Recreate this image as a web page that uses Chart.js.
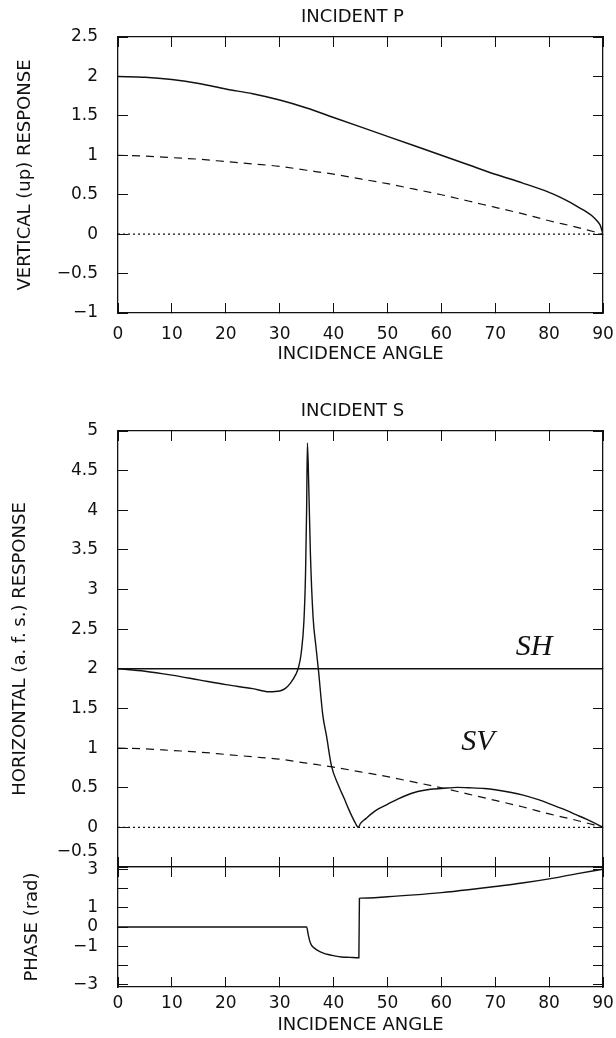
<!DOCTYPE html>
<html><head><meta charset="utf-8">
<script src="https://cdn.jsdelivr.net/npm/chart.js@4.4.1/dist/chart.umd.min.js"></script>
<style>
html,body{margin:0;padding:0;background:#fff;}
body{width:616px;height:1038px;position:relative;overflow:hidden;}
canvas{position:absolute;left:0;}
</style>
</head><body>
<canvas id="cP" width="616" height="372" style="top:0px"></canvas>
<canvas id="cS" width="616" height="490" style="top:380px"></canvas>
<canvas id="cPh" width="616" height="178" style="top:860px"></canvas>
<script>
// ---------- data ----------
const refAngles = [0, 90];
const zeroLine  = [0, 0];
const shLine    = [2, 2];

// Incident P: vertical (up) response (solid)
const pAngles   = [0,5,10,15,20,25,30,35,40,45,50,55,60,65,70,75,80,82,84,86,87,88,89,89.5,90];
const pVertical = [2.0,1.99,1.96,1.91,1.84,1.78,1.70,1.60,1.48,1.36,1.24,1.12,1.00,0.88,0.76,0.65,0.53,0.47,0.40,0.32,0.28,0.23,0.16,0.11,0.0];

// Incident P: dashed curve
const pDashAngles = [0,5,10,15,20,25,30,35,40,45,50,55,60,65,70,75,80,85,90];
const pDashed     = [1.0,0.99,0.97,0.95,0.92,0.89,0.86,0.81,0.76,0.70,0.64,0.57,0.50,0.42,0.34,0.26,0.17,0.09,0.0];

// Incident S: SV horizontal response (solid)
const svAngles = [0,5,10,15,20,25,28,30,31,32,33,33.5,34,34.5,34.8,35.0,35.15,35.4,35.7,36.2,36.7,37.2,38,38.7,39.6,40.9,42,42.8,44,44.6,45,46,47,48,50,52,55,58,60,63,65,68,70,73,75,78,80,83,85,87,89,90];
const svSolid  = [2.0,1.97,1.92,1.86,1.80,1.75,1.71,1.72,1.75,1.82,1.93,2.02,2.2,2.6,3.2,4.0,4.85,4.3,3.46,2.65,2.3,1.98,1.42,1.15,0.78,0.53,0.36,0.23,0.06,0.0,0.05,0.11,0.17,0.22,0.29,0.36,0.44,0.48,0.49,0.505,0.50,0.49,0.475,0.44,0.41,0.35,0.30,0.22,0.16,0.10,0.035,0.0];

// Incident S: dashed curve
const svDashAngles = [0,5,10,15,20,25,30,35,40,45,50,55,60,65,70,75,80,85,90];
const svDashed     = [1.0,0.99,0.97,0.95,0.92,0.89,0.86,0.81,0.76,0.70,0.64,0.57,0.50,0.42,0.34,0.26,0.17,0.09,0.0];

// Phase (rad)
const phaseAngles = [0,10,20,30,35.0,35.3,35.6,35.9,36.5,37.2,38,39,40,41.5,43,44.7,44.8,45,50,55,60,65,70,75,80,85,90];
const phaseValues = [0,0,0,0,0,-0.4,-0.75,-0.95,-1.12,-1.25,-1.35,-1.44,-1.50,-1.57,-1.59,-1.61,1.50,1.51,1.58,1.68,1.80,1.95,2.12,2.30,2.52,2.78,3.02];
const phaseTickLabels = [3,1,0,-1,-3];

// ---------- helpers ----------
const INK = '#111';
const FONT = {family:"'DejaVu Sans', sans-serif", size:17};
const TFONT = {family:"'DejaVu Sans', sans-serif", size:18};
const pts = (xs, ys) => xs.map((x, i) => ({x: x, y: ys[i]}));
const fmt = v => String(v).replace('-', '\u2212');

function line(xs, ys, w, dash) {
  return {data: pts(xs, ys), borderColor: INK, borderWidth: w, borderDash: dash || [],
          pointRadius: 0, fill: false, showLine: true, cubicInterpolationMode: 'monotone'};
}

const textPlugin = {
  id: 'panelText',
  afterDraw(chart, args, opts) {
    const ctx = chart.ctx, a = chart.chartArea;
    (opts.items || []).forEach(it => {
      ctx.save();
      ctx.font = it.font;
      ctx.fillStyle = INK;
      ctx.textAlign = it.align || 'center';
      ctx.textBaseline = 'middle';
      const x = it.xv !== undefined ? chart.scales.x.getPixelForValue(it.xv) : (it.left ? a.left + it.left : (a.left + a.right) / 2 + (it.dx || 0));
      const y = it.yv !== undefined ? chart.scales.y.getPixelForValue(it.yv) + (it.dy || 0) : a.top + it.top;
      ctx.fillText(it.text, x, y);
      ctx.restore();
    });
  }
};

function noPad(s) { s.paddingTop = 0; s.paddingBottom = 0; s.paddingLeft = 0; s.paddingRight = 0; }

function scales(cfg) {
  const grid = {drawOnChartArea: false, drawTicks: true, tickLength: -10, color: INK, lineWidth: 1};
  const border = {display: true, color: INK, width: 1.3};
  return {
    x: {type: 'linear', position: 'bottom', min: 0, max: 90,
        ticks: {stepSize: 10, display: cfg.xLabels, font: FONT, color: INK, padding: cfg.xPad, maxRotation: 0, autoSkip: false, callback: v => fmt(v)},
        grid: grid, border: border,
        title: {display: cfg.xLabels, text: 'INCIDENCE ANGLE', font: TFONT, color: INK, padding: {top: 0, bottom: cfg.xTitlePad}},
        afterFit: s => { s.height = cfg.xH; noPad(s); }},
    x2: {type: 'linear', position: 'top', min: 0, max: 90,
        ticks: {stepSize: 10, display: false}, grid: grid, border: border,
        afterFit: s => { s.height = 0; noPad(s); }},
    y: {type: 'linear', position: 'left', min: cfg.yMin, max: cfg.yMax,
        ticks: {stepSize: cfg.yStep, includeBounds: false, font: FONT, color: INK, padding: 30, autoSkip: false, callback: cfg.yCb},
        grid: grid, border: border,
        title: {display: true, text: cfg.yTitle, font: TFONT, color: INK, padding: {top: cfg.yTitlePad, bottom: 0}},
        afterFit: s => { s.width = 118; noPad(s); }},
    y2: {type: 'linear', position: 'right', min: cfg.yMin, max: cfg.yMax,
        ticks: {stepSize: cfg.yStep, includeBounds: false, display: false}, grid: grid, border: border,
        afterFit: s => { s.width = 0; noPad(s); }}
  };
}

function baseOptions(cfg, padTop, items) {
  return {
    responsive: false, animation: false, devicePixelRatio: 1,
    layout: {padding: {top: padTop, right: 13, left: 0, bottom: 0}},
    plugins: {legend: {display: false}, tooltip: {enabled: false}, panelText: {items: items}},
    scales: scales(cfg)
  };
}

// ---------- Incident P ----------
new Chart(document.getElementById('cP'), {
  type: 'line',
  data: {datasets: [
    line(pAngles, pVertical, 1.5),
    line(pDashAngles, pDashed, 1.2, [8, 6]),
    line(refAngles, zeroLine, 1.2, [2, 3])
  ]},
  options: baseOptions({xLabels: true, xPad: 21, xTitlePad: 7, xH: 59, yMin: -1, yMax: 2.5, yStep: 0.5,
      yTitle: 'VERTICAL (up) RESPONSE', yTitlePad: 15, yCb: v => fmt(v)}, 37,
      [{text: 'INCIDENT P', font: "18px 'DejaVu Sans', sans-serif", dx: -8, top: -20}]),
  plugins: [textPlugin]
});

// ---------- Incident S ----------
new Chart(document.getElementById('cS'), {
  type: 'line',
  data: {datasets: [
    line(refAngles, shLine, 1.4),
    line(svAngles, svSolid, 1.4),
    line(svDashAngles, svDashed, 1.2, [8, 6]),
    line(refAngles, zeroLine, 1.2, [2, 3])
  ]},
  options: baseOptions({xLabels: false, xPad: 0, xTitlePad: 0, xH: 3, yMin: -0.5, yMax: 5, yStep: 0.5,
      yTitle: 'HORIZONTAL (a. f. s.) RESPONSE', yTitlePad: 10, yCb: v => (v === -0.5 ? '' : fmt(v))}, 51,
      [{text: 'INCIDENT S', font: "18px 'DejaVu Sans', sans-serif", dx: -8, top: -20},
       {text: 'SH', font: "italic 30px 'Liberation Serif', serif", xv: 77.2, yv: 2.27},
       {text: 'SV', font: "italic 30px 'Liberation Serif', serif", xv: 66.8, yv: 1.07},
       {text: fmt(-0.5), font: "17px 'DejaVu Sans', sans-serif", align: 'right', left: -20, yv: -0.5, dy: -15}]),
  plugins: [textPlugin]
});

// ---------- Phase ----------
new Chart(document.getElementById('cPh'), {
  type: 'line',
  data: {datasets: [
    line(phaseAngles, phaseValues, 1.4)
  ]},
  options: baseOptions({xLabels: true, xPad: 16, xTitlePad: 2, xH: 51, yMin: -3.14, yMax: 3.14, yStep: 1,
      yTitle: 'PHASE (rad)', yTitlePad: 22, yCb: v => (phaseTickLabels.includes(v) ? fmt(v) : '')}, 7, []),
  plugins: [textPlugin]
});
</script>
</body></html>
